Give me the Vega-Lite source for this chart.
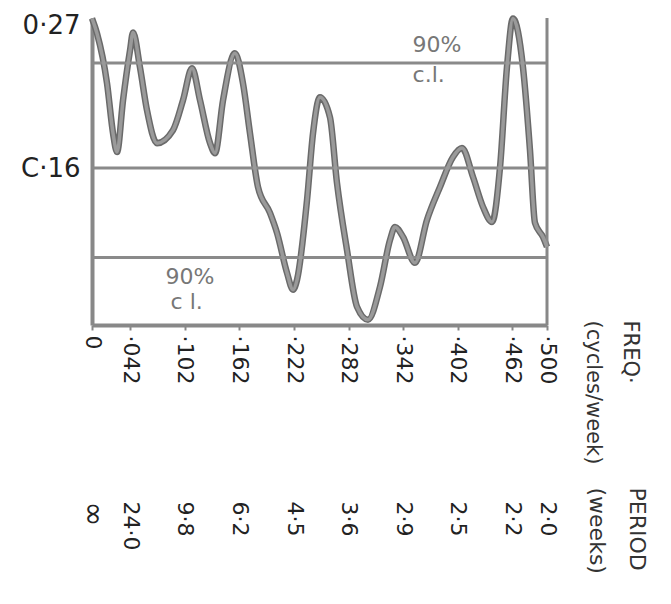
{
  "$schema": "https://vega.github.io/schema/vega-lite/v6.json",
  "width": 455,
  "height": 307,
  "autosize": {"type": "none"},
  "padding": {"left": 92, "top": 18, "right": 124, "bottom": 279},
  "background": "white",
  "config": {"view": {"stroke": null}, "font": "DejaVu Sans"},
  "datasets": {
    "spectrum": [
      {"freq": 0.0, "power": 0.2754},
      {"freq": 0.0055, "power": 0.2638},
      {"freq": 0.0165, "power": 0.2254},
      {"freq": 0.0231, "power": 0.1869},
      {"freq": 0.0275, "power": 0.1723},
      {"freq": 0.0341, "power": 0.2123},
      {"freq": 0.0418, "power": 0.2508},
      {"freq": 0.0451, "power": 0.2646},
      {"freq": 0.0527, "power": 0.2377},
      {"freq": 0.0604, "power": 0.2046},
      {"freq": 0.0714, "power": 0.1792},
      {"freq": 0.089, "power": 0.1892},
      {"freq": 0.1, "power": 0.2123},
      {"freq": 0.1099, "power": 0.2369},
      {"freq": 0.1187, "power": 0.2123},
      {"freq": 0.1297, "power": 0.1792},
      {"freq": 0.1352, "power": 0.1715},
      {"freq": 0.144, "power": 0.2123},
      {"freq": 0.1571, "power": 0.2485},
      {"freq": 0.1659, "power": 0.2254},
      {"freq": 0.1736, "power": 0.1869},
      {"freq": 0.1824, "power": 0.1454},
      {"freq": 0.1956, "power": 0.1254},
      {"freq": 0.2033, "power": 0.11},
      {"freq": 0.2143, "power": 0.0792},
      {"freq": 0.2209, "power": 0.0662},
      {"freq": 0.2253, "power": 0.0738},
      {"freq": 0.2363, "power": 0.1354},
      {"freq": 0.2429, "power": 0.1869},
      {"freq": 0.2505, "power": 0.2146},
      {"freq": 0.2615, "power": 0.1992},
      {"freq": 0.2692, "power": 0.1485},
      {"freq": 0.2802, "power": 0.0969},
      {"freq": 0.2912, "power": 0.0531},
      {"freq": 0.3033, "power": 0.0431},
      {"freq": 0.3165, "power": 0.0685},
      {"freq": 0.3275, "power": 0.1046},
      {"freq": 0.333, "power": 0.1146},
      {"freq": 0.3418, "power": 0.1069},
      {"freq": 0.3549, "power": 0.0869},
      {"freq": 0.3681, "power": 0.12},
      {"freq": 0.3824, "power": 0.1454},
      {"freq": 0.3967, "power": 0.1685},
      {"freq": 0.4066, "power": 0.1754},
      {"freq": 0.4187, "power": 0.1531},
      {"freq": 0.4297, "power": 0.13},
      {"freq": 0.4396, "power": 0.1185},
      {"freq": 0.4484, "power": 0.1608},
      {"freq": 0.456, "power": 0.2377},
      {"freq": 0.4626, "power": 0.2754},
      {"freq": 0.4736, "power": 0.2377},
      {"freq": 0.4813, "power": 0.1738},
      {"freq": 0.4868, "power": 0.1177},
      {"freq": 0.4956, "power": 0.1069},
      {"freq": 0.5, "power": 0.0992}
    ],
    "levels": [
      {"level": 0.241, "name": "upper 90% c.l."},
      {"level": 0.16, "name": "mean"},
      {"level": 0.091, "name": "lower 90% c.l."}
    ],
    "notes": [
      {"freq": 0.379, "power": 0.2546, "label": "90%"},
      {"freq": 0.37, "power": 0.2315, "label": "c.l."},
      {"freq": 0.1077, "power": 0.0762, "label": "90%"},
      {"freq": 0.104, "power": 0.0569, "label": "c l."}
    ],
    "edge": [{"freq": 0.5}]
  },
  "layer": [
    {
      "data": {"name": "spectrum"},
      "mark": {"type": "line", "interpolate": "monotone", "color": "#6a6a6a", "strokeWidth": 6.5},
      "encoding": {
        "x": {
          "field": "freq",
          "type": "quantitative",
          "scale": {"domain": [0, 0.5], "nice": false, "zero": false},
          "axis": {
            "orient": "bottom",
            "values": [0, 0.042, 0.102, 0.162, 0.222, 0.282, 0.342, 0.402, 0.462, 0.5],
            "labelExpr": "datum.value == 0 ? '0' : '·' + substring(format(datum.value, '.3f'), 2)",
            "labelAngle": 90,
            "labelAlign": "left",
            "labelBaseline": "middle",
            "labelFontSize": 22,
            "labelColor": "#222222",
            "labelFlush": false,
            "labelOverlap": false,
            "labelPadding": 5,
            "domainColor": "#888888",
            "domainWidth": 4,
            "tickColor": "#888888",
            "tickWidth": 2,
            "tickSize": 5,
            "grid": false,
            "title": ["FREQ·", "(cycles/week)"],
            "titleAngle": 90,
            "titleAlign": "left",
            "titleBaseline": "middle",
            "titleX": 537,
            "titleY": -5,
            "titleFontSize": 21,
            "titleFontWeight": "normal",
            "titleColor": "#333333",
            "titleLineHeight": 37
          }
        },
        "y": {
          "field": "power",
          "type": "quantitative",
          "scale": {"domain": [0.039, 0.2757], "nice": false, "zero": false},
          "axis": {
            "orient": "left",
            "values": [0.27, 0.16],
            "labelExpr": "datum.value > 0.2 ? '0·27' : 'C·16'",
            "labelFontSize": 26,
            "labelColor": "#222222",
            "labelPadding": 12,
            "ticks": false,
            "domainColor": "#888888",
            "domainWidth": 4,
            "grid": false,
            "title": null
          }
        }
      }
    },
    {
      "data": {"name": "levels"},
      "mark": {"type": "rule", "color": "#8a8a8a", "strokeWidth": 3},
      "encoding": {
        "y": {"field": "level", "type": "quantitative", "axis": null}
      }
    },
    {
      "data": {"name": "edge"},
      "mark": {"type": "rule", "color": "#888888", "strokeWidth": 3},
      "encoding": {
        "x": {
          "field": "freq",
          "type": "quantitative",
          "axis": {
            "orient": "bottom",
            "values": [0, 0.042, 0.102, 0.162, 0.222, 0.282, 0.342, 0.402, 0.462, 0.5],
            "labelExpr": "['∞','24·0','9·8','6·2','4·5','3·6','2·9','2·5','2·2','2·0'][indexof([0, 0.042, 0.102, 0.162, 0.222, 0.282, 0.342, 0.402, 0.462, 0.5], datum.value)]",
            "labelAngle": 90,
            "labelAlign": "left",
            "labelBaseline": "middle",
            "labelFontSize": {"condition": {"test": "datum.value == 0", "value": 30}, "value": 22},
            "labelColor": "#222222",
            "labelFlush": false,
            "labelOverlap": false,
            "labelPadding": 4,
            "domain": false,
            "ticks": false,
            "grid": false,
            "offset": 172,
            "title": ["PERIOD", "(weeks)"],
            "titleAngle": 90,
            "titleAlign": "left",
            "titleBaseline": "middle",
            "titleX": 544,
            "titleY": -10,
            "titleFontSize": 22,
            "titleFontWeight": "normal",
            "titleColor": "#333333",
            "titleLineHeight": 40
          }
        }
      }
    },
    {
      "data": {"name": "spectrum"},
      "mark": {"type": "line", "interpolate": "monotone", "color": "#9a9a9a", "strokeWidth": 3.5},
      "encoding": {
        "x": {"field": "freq", "type": "quantitative", "axis": null},
        "y": {"field": "power", "type": "quantitative", "axis": null}
      }
    },
    {
      "data": {"name": "notes"},
      "mark": {"type": "text", "fontSize": 22, "color": "#777777", "align": "center", "baseline": "middle"},
      "encoding": {
        "x": {"field": "freq", "type": "quantitative", "axis": null},
        "y": {"field": "power", "type": "quantitative", "axis": null},
        "text": {"field": "label"}
      }
    }
  ],
  "resolve": {"axis": {"x": "independent", "y": "independent"}}
}
